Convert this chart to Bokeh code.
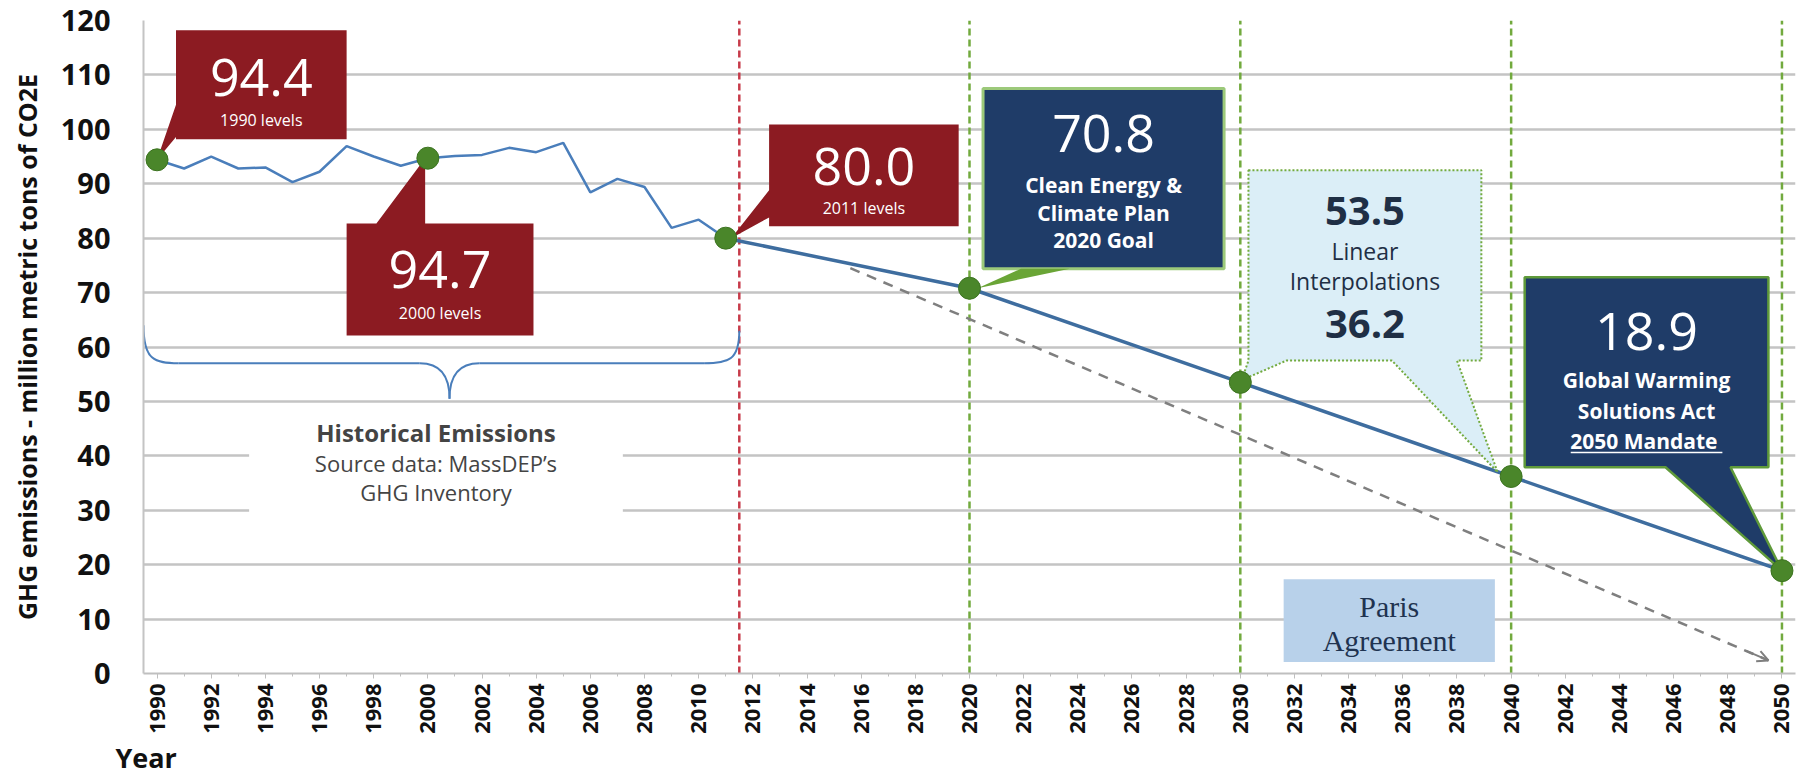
import math

from bokeh.plotting import figure
from bokeh.models import Range1d, FixedTicker, Label, Arrow, OpenHead, Title
from bokeh.embed import file_html
from bokeh.resources import INLINE

# ---- data -------------------------------------------------------------
hist_years = list(range(1990, 2012))
hist_values = [94.4, 92.8, 95.0, 92.8, 93.0, 90.3, 92.2, 96.9, 95.0, 93.3, 94.7,
               95.1, 95.3, 96.6, 95.8, 97.5, 88.4, 90.9, 89.4, 81.9, 83.4, 80.0]

target_years = [2011, 2020, 2030, 2040, 2050]
target_values = [80.0, 70.8, 53.5, 36.2, 18.9]

paris_years = [2015.6, 2049.5]
paris_values = [74.5, 2.4]

milestone_years = [1990, 2000, 2011, 2020, 2030, 2040, 2050]
milestone_values = [94.4, 94.7, 80.0, 70.8, 53.5, 36.2, 18.9]

y_ticks = list(range(0, 121, 10))
x_ticks = list(range(1990, 2051, 2))
x_minor = list(range(1990, 2051))
x_tick_labels = {t: str(t) for t in x_ticks}

red_marker_years = [2011.5]
green_marker_years = [2020, 2030, 2040, 2050]

# ---- styling ----------------------------------------------------------
FONT = "Open Sans"
RED = "#8c1b22"
NAVY = "#1f3c68"
DOT = "#4a862a"
GREEN_LINE = "#72aa3e"
BORDER_GREEN = "#9cc97a"
HIST_BLUE = "#4a7ebb"
PROJ_BLUE = "#3e6d9f"
INK = "#1f2f45"

p = figure(width=1814, height=775,
           x_range=Range1d(1989.5, 2050.5), y_range=Range1d(0, 120),
           output_backend="svg", toolbar_location=None,
           min_border_left=143, min_border_right=19,
           min_border_top=20, min_border_bottom=101)
p.outline_line_color = None
p.background_fill_color = "white"
p.border_fill_color = "white"

p.xgrid.visible = False
p.ygrid.ticker = FixedTicker(ticks=y_ticks)
p.ygrid.grid_line_color = "#c4c4c4"
p.ygrid.grid_line_width = 2.5

p.yaxis.ticker = FixedTicker(ticks=y_ticks)
p.yaxis.major_tick_line_color = None
p.yaxis.minor_tick_line_color = None
p.yaxis.axis_line_color = "#c4c4c4"
p.yaxis.axis_line_width = 2
p.yaxis.major_label_text_font = FONT
p.yaxis.major_label_text_font_size = "29px"
p.yaxis.major_label_text_font_style = "bold"
p.yaxis.major_label_text_color = "#111111"
p.yaxis.major_label_standoff = 27
p.yaxis.axis_label = "GHG emissions - million metric tons of CO2E"
p.yaxis.axis_label_text_font = FONT
p.yaxis.axis_label_text_font_size = "25px"
p.yaxis.axis_label_text_font_style = "bold"
p.yaxis.axis_label_text_color = "#111111"
p.yaxis.axis_label_standoff = 14

p.xaxis.ticker = FixedTicker(ticks=x_ticks, minor_ticks=x_minor)
p.xaxis.major_label_overrides = x_tick_labels
p.xaxis.major_label_orientation = math.pi / 2
p.xaxis.major_label_text_font = FONT
p.xaxis.major_label_text_font_size = "22px"
p.xaxis.major_label_text_font_style = "bold"
p.xaxis.major_label_text_color = "#111111"
p.xaxis.major_label_standoff = 5
p.xaxis.axis_line_color = "#bfbfbf"
p.xaxis.axis_line_width = 2
p.xaxis.major_tick_line_color = "#bfbfbf"
p.xaxis.minor_tick_line_color = "#bfbfbf"
p.xaxis.major_tick_in = 0
p.xaxis.major_tick_out = 5
p.xaxis.minor_tick_in = 0
p.xaxis.minor_tick_out = 3

p.add_layout(Title(text="Year", align="left", offset=-28, standoff=0,
                   text_font=FONT, text_font_size="27px", text_font_style="bold",
                   text_color="#111111"), "below")

# ---- white backing behind the historical-emissions note ---------------
p.quad(left=[1993.4], right=[2007.2], bottom=[29.5], top=[48.0],
       fill_color="white", line_color=None)

# ---- milestone marker lines -------------------------------------------
p.segment(x0=red_marker_years, y0=[0] * len(red_marker_years),
          x1=red_marker_years, y1=[120] * len(red_marker_years),
          line_color="#c73b4a", line_width=2.5, line_dash="7 4")
p.segment(x0=green_marker_years, y0=[0] * len(green_marker_years),
          x1=green_marker_years, y1=[120] * len(green_marker_years),
          line_color=GREEN_LINE, line_width=2.5, line_dash="7 4")

# ---- curly brace over the historical period ---------------------------
BR = dict(line_color=HIST_BLUE, line_width=2)
p.bezier(x0=[1989.5], y0=[64], x1=[1990.8], y1=[57],
         cx0=[1989.5], cy0=[57.6], cx1=[1989.9], cy1=[57], **BR)
p.segment(x0=[1990.8], y0=[57], x1=[1999.7], y1=[57], **BR)
p.bezier(x0=[1999.7], y0=[57], x1=[2000.8], y1=[50.5],
         cx0=[2000.5], cy0=[57], cx1=[2000.8], cy1=[54.5], **BR)
p.bezier(x0=[2000.8], y0=[50.5], x1=[2001.9], y1=[57],
         cx0=[2000.8], cy0=[54.5], cx1=[2001.1], cy1=[57], **BR)
p.segment(x0=[2001.9], y0=[57], x1=[2010.2], y1=[57], **BR)
p.bezier(x0=[2010.2], y0=[57], x1=[2011.5], y1=[63],
         cx0=[2011.1], cy0=[57], cx1=[2011.5], cy1=[57.6], **BR)

p.add_layout(Label(x=2000.3, y=44.3, text="Historical Emissions", text_font=FONT,
                   text_font_size="24px", text_font_style="bold", text_color="#444444",
                   text_align="center", text_baseline="middle"))
p.add_layout(Label(x=2000.3, y=38.6, text="Source data: MassDEP\u2019s", text_font=FONT,
                   text_font_size="22px", text_color="#444444",
                   text_align="center", text_baseline="middle"))
p.add_layout(Label(x=2000.3, y=33.4, text="GHG Inventory", text_font=FONT,
                   text_font_size="22px", text_color="#444444",
                   text_align="center", text_baseline="middle"))

# ---- Paris Agreement pathway ------------------------------------------
p.line(paris_years, paris_values, line_color="#7f7f7f", line_width=2.5, line_dash="10 8")
dx = paris_years[-1] - paris_years[-2]
dy = paris_values[-1] - paris_values[-2]
p.add_layout(Arrow(end=OpenHead(size=11, line_color="#7f7f7f", line_width=2),
                   x_start=paris_years[-1] - 0.8, y_start=paris_values[-1] - 0.8 * dy / dx,
                   x_end=paris_years[-1], y_end=paris_values[-1],
                   line_color="#7f7f7f", line_width=2))

p.quad(left=[2031.6], right=[2039.4], bottom=[2.1], top=[17.3],
       fill_color="#b8d1ea", line_color=None)
p.add_layout(Label(x=2035.5, y=12.4, text="Paris", text_font="Liberation Serif",
                   text_font_size="30px", text_color="#1f3350",
                   text_align="center", text_baseline="middle"))
p.add_layout(Label(x=2035.5, y=6.0, text="Agreement", text_font="Liberation Serif",
                   text_font_size="30px", text_color="#1f3350",
                   text_align="center", text_baseline="middle"))

# ---- emissions lines ---------------------------------------------------
p.line(hist_years, hist_values, line_color=HIST_BLUE, line_width=2.5)
p.line(target_years, target_values, line_color=PROJ_BLUE, line_width=3.5)


# ---- callout shapes ----------------------------------------------------
def left_callout(x0, x1, y0, y1, b0, b1, tip):
    xs = [x1, x1, x0, x0, tip[0], x0, x0]
    ys = [y1, y0, y0, b0, tip[1], b1, y1]
    return xs, ys


def top_callout(x0, x1, y0, y1, b0, b1, tip):
    xs = [x0, x0, b0, tip[0], b1, x1, x1]
    ys = [y0, y1, y1, tip[1], y1, y1, y0]
    return xs, ys


def bottom_callout(x0, x1, y0, y1, pointers):
    xs, ys = [x0, x1, x1], [y1, y1, y0]
    for b0, b1, tip in sorted(pointers, key=lambda t: -t[0]):
        xs += [b1, tip[0], b0]
        ys += [y0, tip[1], y0]
    xs.append(x0)
    ys.append(y0)
    return xs, ys


yr = dict(zip(milestone_years, milestone_values))

# 1990 level
xs, ys = left_callout(1990.7, 1997.0, 98.2, 118.2, 98.6, 104.5, (1990.0, yr[1990]))
p.patch(xs, ys, fill_color=RED, line_color=None)
# 2000 level
xs, ys = top_callout(1997.0, 2003.9, 62.1, 82.7, 1998.1, 1999.9, (1999.9, yr[2000]))
p.patch(xs, ys, fill_color=RED, line_color=None)
# 2011 level
xs, ys = left_callout(2012.6, 2019.6, 82.2, 100.9, 83.8, 88.8, (2011.2, yr[2011]))
p.patch(xs, ys, fill_color=RED, line_color=None)

# 2020 goal
p.quad(left=[2020.5], right=[2029.4], bottom=[74.4], top=[107.5],
       fill_color=NAVY, line_color=BORDER_GREEN, line_width=3)
p.patch([2021.9, 2023.7, 2020.3], [74.4, 74.4, yr[2020]],
        fill_color="#6aa536", line_color=None)

# linear interpolations
xs, ys = bottom_callout(2030.3, 2038.9, 57.5, 92.5,
                        [(2030.3, 2031.7, (2030.05, yr[2030] + 0.4)),
                         (2035.6, 2038.0, (2039.5, yr[2040] + 0.8))])
p.patch(xs, ys, fill_color="#dbeef7", line_color=GREEN_LINE, line_width=2, line_dash="2 2")

# 2050 mandate
xs, ys = bottom_callout(2040.5, 2049.5, 37.9, 72.8,
                        [(2045.7, 2048.1, (2050.0, yr[2050]))])
p.patch(xs, ys, fill_color=NAVY, line_color="#5f9a3a", line_width=2.5)

# ---- milestone dots ----------------------------------------------------
p.scatter(milestone_years, milestone_values, size=22, fill_color=DOT,
          line_color="#3c7320", line_width=1)


# ---- callout texts -----------------------------------------------------
def put(x, y, text, size, color="white", bold=False, font=FONT):
    p.add_layout(Label(x=x, y=y, text=text, text_font=font, text_font_size=f"{size}px",
                       text_color=color, text_font_style="bold" if bold else "normal",
                       text_align="center", text_baseline="middle"))


fmt = lambda v: f"{v:.1f}"

put(1993.85, 109.6, fmt(yr[1990]), 52)
put(1993.85, 101.8, "1990 levels", 16)

put(2000.45, 74.3, fmt(yr[2000]), 52)
put(2000.45, 66.2, "2000 levels", 16)

put(2016.1, 93.2, fmt(yr[2011]), 52)
put(2016.1, 85.6, "2011 levels", 16)

put(2024.95, 99.2, fmt(yr[2020]), 52)
put(2024.95, 89.8, "Clean Energy &", 21, bold=True)
put(2024.95, 84.7, "Climate Plan", 21, bold=True)
put(2024.95, 79.6, "2020 Goal", 21, bold=True)

put(2034.6, 85.0, fmt(yr[2030]), 40, color=INK, bold=True)
put(2034.6, 77.6, "Linear", 23, color=INK)
put(2034.6, 72.2, "Interpolations", 23, color=INK)
put(2034.6, 64.3, fmt(yr[2040]), 40, color=INK, bold=True)

put(2045.0, 62.8, fmt(yr[2050]), 52)
put(2045.0, 54.0, "Global Warming", 21, bold=True)
put(2045.0, 48.3, "Solutions Act", 21, bold=True)
put(2045.0, 42.8, "2050  Mandate", 21, bold=True)
p.segment(x0=[2042.2], y0=[40.6], x1=[2047.8], y1=[40.6], line_color="white", line_width=1.5)

open("out.html", "w").write(file_html(p, INLINE))
